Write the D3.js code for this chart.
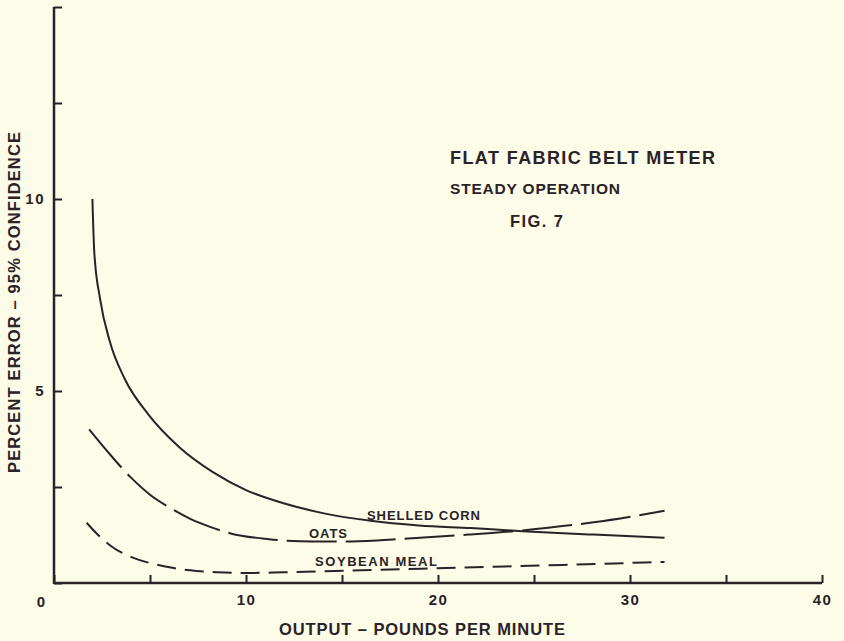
<!DOCTYPE html>
<html><head><meta charset="utf-8">
<script src="https://cdn.jsdelivr.net/npm/d3@7"></script>
<style>
html,body{margin:0;padding:0;background:#fcfce8;}
svg{display:block;}
text{font-family:"Liberation Sans","DejaVu Sans",sans-serif;font-weight:bold;fill:#2a2226;}
</style></head>
<body><svg id="c" width="844" height="641"></svg>
<script>
const cornX = [2.0, 2.1, 2.4, 2.9, 3.7, 4.9, 6.5, 8.3, 10.0, 12.0, 14.0, 16.5, 19.0, 21.7, 24.4, 28.1, 31.8];
const cornY = [10.0, 8.6, 7.4, 6.3, 5.3, 4.4, 3.55, 2.88, 2.42, 2.07, 1.82, 1.62, 1.50, 1.43, 1.35, 1.26, 1.18];
const oatsX = [1.83, 3.0, 4.0, 5.0, 6.0, 7.1, 8.2, 9.2, 11.2, 13.5, 15.5, 18.2, 21.6, 24.4, 28.1, 31.8];
const oatsY = [4.0, 3.3, 2.75, 2.3, 1.97, 1.67, 1.45, 1.29, 1.14, 1.08, 1.08, 1.15, 1.26, 1.37, 1.58, 1.88];
const soyX = [1.7, 2.3, 3.0, 4.0, 5.0, 6.0, 7.1, 8.5, 10.0, 12.0, 16.0, 21.2, 26.5, 31.8];
const soyY = [1.57, 1.25, 0.95, 0.68, 0.52, 0.41, 0.33, 0.28, 0.26, 0.28, 0.33, 0.40, 0.47, 0.55];
const xTicks = [0, 5, 10, 15, 20, 25, 30, 35, 40];
const xTickLabels = ["", "", "10", "", "20", "", "30", "", "40"];
const yTicks = [0, 2.5, 5, 7.5, 10, 12.5, 15];
const yTickLabels = ["", "", "5", "", "10", "", ""];
const seriesNames = ["SHELLED CORN", "OATS", "SOYBEAN MEAL"];
const titleLines = ["FLAT FABRIC BELT METER", "STEADY OPERATION", "FIG. 7"];
const xTitle = "OUTPUT – POUNDS PER MINUTE";
const yTitle = "PERCENT ERROR – 95% CONFIDENCE";

const ink = "#2a2226";
const svg = d3.select("#c");
const x = d3.scaleLinear().domain([0, 40]).range([54, 822]);
const y = d3.scaleLinear().domain([0, 15]).range([583, 7]);

// axes
const xAxis = d3.axisBottom(x).tickValues(xTicks).tickSize(0).tickFormat((d,i)=>xTickLabels[i]).tickPadding(11);
const gx = svg.append("g").attr("transform", `translate(0,${y(0)})`).call(xAxis);
gx.select(".domain").remove();
gx.selectAll("text").attr("font-size", 15).attr("fill", ink).attr("font-family", null).attr("letter-spacing", 1.5);
gx.selectAll(".tick").append("line").attr("y1", 0).attr("y2", -8).attr("stroke", ink).attr("stroke-width", 2);

const yAxis = d3.axisLeft(y).tickValues(yTicks).tickSize(0).tickFormat((d,i)=>yTickLabels[i]).tickPadding(9);
const gy = svg.append("g").attr("transform", `translate(${x(0)},0)`).call(yAxis);
gy.select(".domain").remove();
gy.selectAll("text").attr("font-size", 15).attr("fill", ink).attr("font-family", null).attr("letter-spacing", 1.5);
gy.selectAll(".tick").append("line").attr("x1", 0).attr("x2", 8).attr("stroke", ink).attr("stroke-width", 2);

// axis lines
svg.append("line").attr("x1", x(0)).attr("x2", x(40)).attr("y1", y(0)).attr("y2", y(0)).attr("stroke", ink).attr("stroke-width", 2.5);
svg.append("line").attr("x1", x(0)).attr("x2", x(0)).attr("y1", y(0)+1).attr("y2", y(15)).attr("stroke", ink).attr("stroke-width", 2.5);

// origin label
svg.append("text").attr("x", x(0)-13).attr("y", 607).attr("text-anchor", "middle").attr("font-size", 15).text("0");

// curves
const line = d3.line().x(d=>x(d[0])).y(d=>y(d[1])).curve(d3.curveMonotoneX);
const zip = (a,b)=>a.map((v,i)=>[v,b[i]]);
svg.append("path").attr("d", line(zip(cornX, cornY))).attr("fill", "none").attr("stroke", ink).attr("stroke-width", 2);
svg.append("path").attr("d", line(zip(oatsX, oatsY))).attr("fill", "none").attr("stroke", ink).attr("stroke-width", 2).attr("stroke-dasharray", "50,9");
svg.append("path").attr("d", line(zip(soyX, soyY))).attr("fill", "none").attr("stroke", ink).attr("stroke-width", 2).attr("stroke-dasharray", "19,9");

// series labels
const lab = [[367, 520, 113], [309, 537.5, 38], [315, 566, 122]];
seriesNames.forEach((n,i)=>{
  svg.append("text").attr("x", lab[i][0]).attr("y", lab[i][1]).attr("font-size", 13)
    .attr("textLength", lab[i][2]).attr("lengthAdjust", "spacing").text(n);
});

// title
const tpos = [[450, 163.5, 18, 265], [450, 193.5, 15.5, 170], [510, 227, 16.5, 53]];
titleLines.forEach((t,i)=>{
  svg.append("text").attr("x", tpos[i][0]).attr("y", tpos[i][1]).attr("font-size", tpos[i][2])
    .attr("textLength", tpos[i][3]).attr("lengthAdjust", "spacing").text(t);
});

// axis titles
svg.append("text").attr("x", 279).attr("y", 635).attr("font-size", 16.5)
  .attr("textLength", 286).attr("lengthAdjust", "spacing").text(xTitle);
svg.append("text").attr("transform", `translate(20,473) rotate(-90)`).attr("font-size", 16.5)
  .attr("textLength", 341).attr("lengthAdjust", "spacing").text(yTitle);
</script></body></html>
